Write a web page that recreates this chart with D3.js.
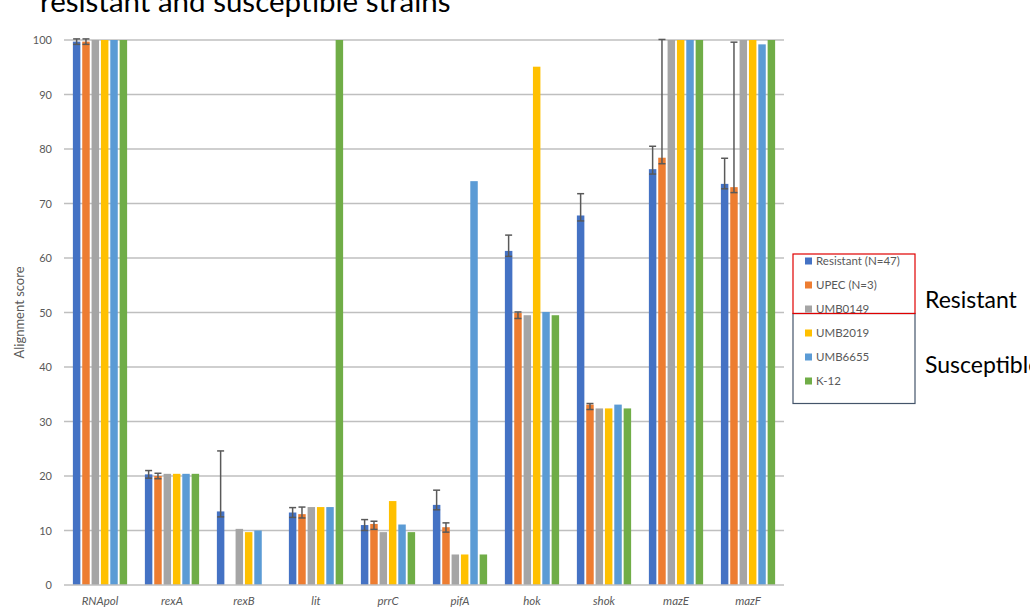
<!DOCTYPE html>
<html>
<head>
<meta charset="utf-8">
<script src="https://cdn.jsdelivr.net/npm/d3@7"></script>
<style>
  html, body { margin: 0; padding: 0; background: #fff; }
  svg { display: block; }
  text { font-family: Lato, "Open Sans", "Liberation Sans", sans-serif; }
</style>
</head>
<body>
<svg id="chart" width="1030" height="608"></svg>
<script>
// Genes on the x axis
const genes = ["RNApol", "rexA", "rexB", "lit", "prrC", "pifA", "hok", "shok", "mazE", "mazF"];

// Strain series
const strains = ["Resistant (N=47)", "UPEC (N=3)", "UMB0149", "UMB2019", "UMB6655", "K-12"];
const colors = ["#4472C4", "#ED7D31", "#A5A5A5", "#FFC000", "#5B9BD5", "#70AD47"];

// Alignment scores per strain, in gene order
const resistant = [99.7, 20.3, 13.5, 13.3, 11.0, 14.7, 61.3, 67.8, 76.3, 73.6];
const upec      = [99.7, 20.0, 0,    13.0, 11.2, 10.6, 49.9, 33.1, 78.4, 73.0];
const umb0149   = [100,  20.4, 10.3, 14.3, 9.7,  5.6,  49.5, 32.4, 100,  100];
const umb2019   = [100,  20.4, 9.7,  14.3, 15.4, 5.6,  95.1, 32.4, 100,  100];
const umb6655   = [100,  20.4, 10.0, 14.3, 11.1, 74.1, 50.1, 33.1, 100,  99.2];
const k12       = [100,  20.4, 0,    100,  9.7,  5.6,  49.5, 32.4, 100,  100];

// Error bar extents (above / below the bar value) for the two pooled groups
const resistantErrUp   = [0.5, 0.7, 11.1, 0.9, 1.0, 2.7, 2.9, 4.0, 4.2, 4.7];
const resistantErrDown = [0.5, 0.7, 1.0,  0.9, 1.0, 0.9, 1.0, 1.0, 0.9, 0.9];
const upecErrUp        = [0.5, 0.5, 0,    1.3, 0.5, 0.8, 0.2, 0.2, 21.7, 26.6];
const upecErrDown      = [0.5, 0.5, 0,    0.7, 1.0, 0.9, 1.0, 0.9, 1.1, 1.0];

const yTicks = [0, 10, 20, 30, 40, 50, 60, 70, 80, 90, 100];

const series = [resistant, upec, umb0149, umb2019, umb6655, k12];
const errors = [
  { up: resistantErrUp, down: resistantErrDown },
  { up: upecErrUp, down: upecErrDown },
  null, null, null, null
];

const svg = d3.select("#chart");
const plot = { left: 64, right: 784, top: 40, bottom: 585 };

const x = d3.scaleBand().domain(genes).range([plot.left, plot.right]).paddingInner(0).paddingOuter(0);
const xs = d3.scaleBand().domain(d3.range(strains.length)).range([0, x.bandwidth()]).paddingInner(0.2).paddingOuter(0.95);
const y = d3.scaleLinear().domain([0, 100]).range([plot.bottom, plot.top]);

// Title (its first line runs above the page edge)
svg.append("text")
  .attr("x", 40).attr("y", 12)
  .attr("font-size", 29.5).attr("fill", "#000")
  .text("resistant and susceptible strains");

// Gridlines
svg.append("g").selectAll("line").data(yTicks.filter(d => d > 0)).join("line")
  .attr("x1", plot.left).attr("x2", plot.right)
  .attr("y1", d => y(d)).attr("y2", d => y(d))
  .attr("stroke", "#BFBFBF").attr("stroke-width", 1.5);

// Y axis labels
const yAxis = d3.axisLeft(y).tickValues(yTicks).tickSize(0).tickPadding(12);
const gy = svg.append("g").attr("transform", `translate(${plot.left},0)`).call(yAxis);
gy.select(".domain").remove();
gy.selectAll("text").attr("font-size", 11).attr("fill", "#595959")
  .style("font-family", "Lato, 'Open Sans', sans-serif");

// Y axis title
svg.append("text")
  .attr("transform", `translate(24,${(plot.top + plot.bottom) / 2}) rotate(-90)`)
  .attr("text-anchor", "middle").attr("font-size", 13).attr("fill", "#595959")
  .text("Alignment score");

// Bars
const rows = [];
series.forEach((vals, si) => vals.forEach((v, gi) => rows.push({ si, gi, v })));
svg.append("g").selectAll("rect").data(rows.filter(d => d.v > 0)).join("rect")
  .attr("x", d => x(genes[d.gi]) + xs(d.si))
  .attr("width", xs.bandwidth())
  .attr("y", d => y(d.v))
  .attr("height", d => y(0) - y(d.v))
  .attr("fill", d => colors[d.si]);

// Baseline
svg.append("line")
  .attr("x1", plot.left).attr("x2", plot.right)
  .attr("y1", y(0)).attr("y2", y(0))
  .attr("stroke", "#BFBFBF").attr("stroke-width", 1.5);

// Error bars
const errRows = [];
errors.forEach((e, si) => {
  if (!e) return;
  series[si].forEach((v, gi) => {
    if (v > 0) errRows.push({ si, gi, v, up: e.up[gi], down: e.down[gi] });
  });
});
const eg = svg.append("g").attr("stroke", "#595959").attr("stroke-width", 1.5);
const cx = d => x(genes[d.gi]) + xs(d.si) + xs.bandwidth() / 2;
eg.selectAll("line.v").data(errRows).join("line").attr("class", "v")
  .attr("x1", cx).attr("x2", cx)
  .attr("y1", d => y(d.v + d.up)).attr("y2", d => y(d.v - d.down));
eg.selectAll("line.t").data(errRows).join("line").attr("class", "t")
  .attr("x1", d => cx(d) - 3.5).attr("x2", d => cx(d) + 3.5)
  .attr("y1", d => y(d.v + d.up)).attr("y2", d => y(d.v + d.up));
eg.selectAll("line.b").data(errRows).join("line").attr("class", "b")
  .attr("x1", d => cx(d) - 3.5).attr("x2", d => cx(d) + 3.5)
  .attr("y1", d => y(d.v - d.down)).attr("y2", d => y(d.v - d.down));

// X axis labels
const xAxis = d3.axisBottom(x).tickSize(0).tickPadding(12);
const gx = svg.append("g").attr("transform", `translate(0,${plot.bottom})`).call(xAxis);
gx.select(".domain").remove();
gx.selectAll("text").attr("font-size", 11.5).attr("fill", "#595959")
  .attr("font-style", "italic")
  .style("font-family", "Lato, 'Open Sans', sans-serif");

// Legend
const legend = svg.append("g");
legend.selectAll("g").data(strains).join("g")
  .attr("transform", (d, i) => `translate(805,${261 + i * 24})`)
  .each(function (d, i) {
    const g = d3.select(this);
    g.append("rect").attr("x", 0).attr("y", -3.5).attr("width", 7).attr("height", 7).attr("fill", colors[i]);
    g.append("text").attr("x", 11).attr("y", 4).attr("font-size", 11.5).attr("fill", "#595959").text(d);
  });

// Group outlines
svg.append("rect").attr("x", 793).attr("y", 313.5).attr("width", 122).attr("height", 90)
  .attr("fill", "none").attr("stroke", "#44546A").attr("stroke-width", 1.2);
svg.append("rect").attr("x", 793).attr("y", 254).attr("width", 122).attr("height", 59.5)
  .attr("fill", "none").attr("stroke", "#E00000").attr("stroke-width", 1.2);

svg.append("text").attr("x", 925).attr("y", 308).attr("font-size", 23).attr("fill", "#000").text("Resistant");
svg.append("text").attr("x", 925).attr("y", 373).attr("font-size", 23).attr("fill", "#000").text("Susceptible");
</script>
</body>
</html>
